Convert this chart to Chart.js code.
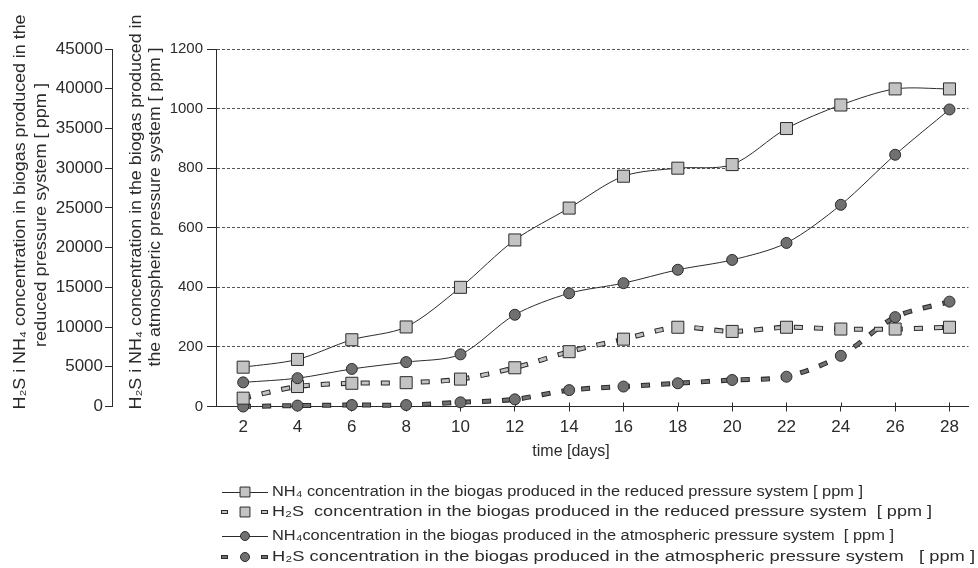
<!DOCTYPE html>
<html>
<head>
<meta charset="utf-8">
<script src="https://cdn.jsdelivr.net/npm/chart.js@4.4.0/dist/chart.umd.min.js"></script>
<style>
  html, body { margin: 0; padding: 0; background: #fff; }
  #wrap { width: 978px; height: 568px; }
</style>
</head>
<body>
<div id="wrap"><canvas id="chart"></canvas></div>
<script>
// data (values on the 0-1200 axis)
const days = [2, 4, 6, 8, 10, 12, 14, 16, 18, 20, 22, 24, 26, 28];
const nh4Reduced = [132, 158, 224, 267, 400, 559, 666, 773, 800, 812, 933, 1012, 1066, 1066];
const h2sReduced = [28, 67, 78, 80, 92, 130, 184, 226, 266, 252, 266, 260, 260, 266];
const nh4Atm = [81, 95, 126, 149, 175, 308, 380, 414, 459, 492, 549, 677, 845, 997];
const h2sAtm = [0, 3, 5, 5, 14, 24, 55, 67, 78, 89, 100, 170, 300, 352];

const innerMax = 1200, innerStep = 200;
const outerMax = 45000, outerStep = 5000;

const outerTitle = ['H₂S i NH₄ concentration in biogas produced in the', 'reduced pressure system [ ppm ]'];
const innerTitle = ['H₂S i NH₄ concentration in the biogas produced in', 'the atmospheric pressure system [ ppm ]'];
const xTitle = 'time [days]';
const labels = [
  'NH₄ concentration in the biogas produced in the reduced pressure system [ ppm ]',
  'H₂S  concentration in the biogas produced in the reduced pressure system  [ ppm ]',
  'NH₄concentration in the biogas produced in the atmospheric pressure system  [ ppm ]',
  'H₂S concentration in the biogas produced in the atmospheric pressure system   [ ppm ]'
];

const INK = '#2b2b2b';
const LIGHT = '#c3c3c3';
const DARK = '#707070';
const FONT = '"Liberation Sans", Arial, sans-serif';

const pts = arr => days.map((d, i) => ({ x: d, y: arr[i] }));

function solid(label, arr, style, fill, radius) {
  return {
    label, data: pts(arr), borderColor: INK, borderWidth: 1, tension: 0.3,
    pointStyle: style, pointRadius: radius, pointBackgroundColor: fill,
    pointBorderColor: INK, pointBorderWidth: 1, clip: false, order: 0,
    kind: 'solid', fillTone: fill
  };
}
function dashed(label, arr, style, fill, radius) {
  return {
    label, data: pts(arr), borderColor: fill, borderWidth: 3, borderDash: [7, 13],
    tension: 0.3, pointStyle: style, pointRadius: radius, pointBackgroundColor: fill,
    pointBorderColor: INK, pointBorderWidth: 1, clip: false, order: 1,
    kind: 'dash', fillTone: fill
  };
}
function outline(arr) {
  return {
    label: '', data: pts(arr), borderColor: INK, borderWidth: 5, borderDash: [9, 11],
    borderDashOffset: 1, tension: 0.3, pointRadius: 0, clip: false, order: 5, underlay: true
  };
}

// draw text stretched to a given length
function fitText(ctx, text, x, y, width, size, rot) {
  ctx.save();
  ctx.font = size + 'px ' + FONT;
  const w = ctx.measureText(text).width;
  ctx.translate(x, y);
  if (rot) ctx.rotate(rot);
  ctx.scale(width / w, 1);
  ctx.fillText(text, 0, 0);
  ctx.restore();
}

const extras = {
  id: 'extras',
  beforeDatasetsDraw(chart) {
    // small tick stubs above the time axis
    const ctx = chart.ctx, xs = chart.scales.x, yb = chart.chartArea.bottom;
    ctx.save();
    ctx.strokeStyle = INK; ctx.lineWidth = 1;
    days.forEach(d => {
      const px = Math.round(xs.getPixelForValue(d)) + 0.5;
      ctx.beginPath(); ctx.moveTo(px, yb - 4); ctx.lineTo(px, yb); ctx.stroke();
    });
    ctx.restore();
  },
  afterDraw(chart) {
    const ctx = chart.ctx;
    ctx.save();
    ctx.fillStyle = INK;
    ctx.textAlign = 'center';
    ctx.textBaseline = 'middle';
    fitText(ctx, outerTitle[0], 21, 212, 395, 16, -Math.PI / 2);
    fitText(ctx, outerTitle[1], 42, 215, 264, 16, -Math.PI / 2);
    fitText(ctx, innerTitle[0], 137, 212, 395, 16, -Math.PI / 2);
    fitText(ctx, innerTitle[1], 156, 207, 319, 16, -Math.PI / 2);
    ctx.font = '16px ' + FONT;
    ctx.fillText(xTitle, 571, 452);

    // legend
    const rows = [492, 512, 536, 557];
    const widths = [591, 660, 622, 703];
    const main = chart.data.datasets.filter(d => !d.underlay);
    ctx.textAlign = 'left';
    main.forEach((ds, i) => {
      const y = rows[i];
      ctx.strokeStyle = INK; ctx.lineWidth = 1;
      if (ds.kind === 'solid') {
        ctx.beginPath(); ctx.moveTo(222, y + 0.5); ctx.lineTo(268, y + 0.5); ctx.stroke();
      } else {
        [224, 264].forEach(cx => {
          ctx.fillStyle = ds.fillTone;
          ctx.fillRect(cx - 3, y - 2, 7, 4);
          ctx.strokeRect(cx - 3 + 0.5, y - 2 + 0.5, 6, 3);
        });
      }
      ctx.fillStyle = ds.fillTone;
      Chart.helpers.drawPoint(ctx, {
        pointStyle: ds.pointStyle, radius: ds.pointStyle === 'rect' ? 7 : 4.5,
        borderWidth: 1, rotation: 0
      }, 245, y);
      ctx.fillStyle = INK;
      fitText(ctx, ds.label, 272, y, widths[i], 15.5, 0);
    });
    ctx.restore();
  }
};

const plain = v => String(v);

new Chart(document.getElementById('chart'), {
  type: 'line',
  data: {
    datasets: [
      solid(labels[0], nh4Reduced, 'rect', LIGHT, 8.5),
      dashed(labels[1], h2sReduced, 'rect', LIGHT, 8.5),
      solid(labels[2], nh4Atm, 'circle', DARK, 5.5),
      dashed(labels[3], h2sAtm, 'circle', DARK, 5.5),
      outline(h2sReduced),
      outline(h2sAtm)
    ]
  },
  options: {
    responsive: true,
    maintainAspectRatio: false,
    devicePixelRatio: 1,
    animation: false,
    layout: { padding: { top: 49, right: 0, bottom: 121.5, left: 0 } },
    plugins: { legend: { display: false }, tooltip: { enabled: false } },
    scales: {
      x: {
        type: 'linear', min: 1, max: 28.7,
        afterBuildTicks: s => { s.ticks = days.map(v => ({ value: v })); },
        afterFit: s => { s.height = 40; },
        ticks: { color: INK, font: { size: 17, family: FONT }, padding: 6, maxRotation: 0, callback: plain },
        grid: { drawOnChartArea: false, tickLength: 5, tickColor: INK },
        border: { color: INK, width: 1 }
      },
      y: {
        type: 'linear', position: 'left', weight: 0, min: 0, max: innerMax,
        afterFit: s => { s.width = 104; },
        ticks: { stepSize: innerStep, color: INK, font: { size: 15, family: FONT }, padding: 4, callback: plain },
        grid: { color: '#555', lineWidth: 1, tickLength: 9, tickColor: INK, tickBorderDash: [] },
        border: { color: INK, width: 1, dash: [3, 2] }
      },
      y2: {
        type: 'linear', position: 'left', weight: 1, min: 0, max: outerMax,
        afterFit: s => { s.width = 112; },
        ticks: { stepSize: outerStep, color: INK, font: { size: 17, family: FONT }, padding: 2, callback: plain },
        grid: { drawOnChartArea: false, tickLength: 7, tickColor: INK },
        border: { color: INK, width: 1 }
      }
    }
  },
  plugins: [extras]
});
</script>
</body>
</html>
